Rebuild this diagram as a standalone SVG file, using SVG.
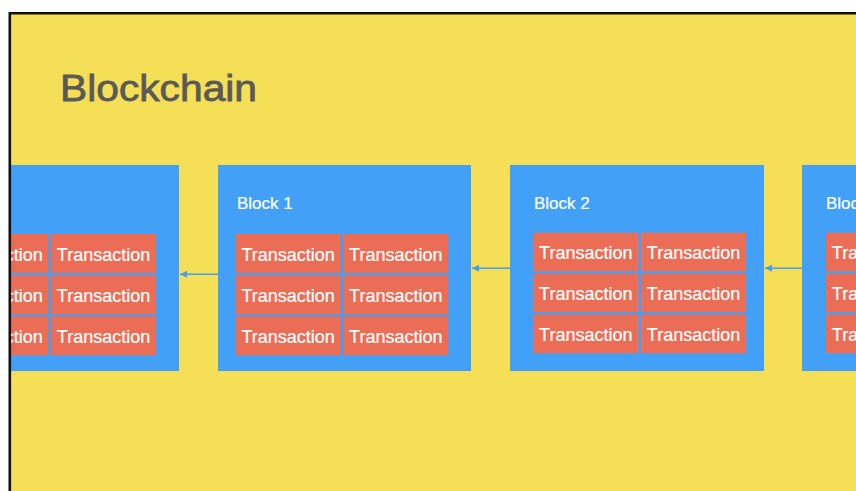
<svg xmlns="http://www.w3.org/2000/svg" width="856" height="491" viewBox="0 0 856 491">
<style>
.bg{fill:#F5DF57}
.frame{fill:none;stroke:#111;stroke-width:2.6}
.block{fill:#42A1F6}
.tx{fill:#EC6D56}
.tt{font-family:"Liberation Sans",Arial,sans-serif;font-size:18px;fill:#fff;text-anchor:middle;stroke:#fff;stroke-width:0.2}
.bl{font-family:"Liberation Sans",Arial,sans-serif;font-size:17px;fill:#fff;stroke:#fff;stroke-width:0.2}
.title{font-family:"Liberation Sans",Arial,sans-serif;font-size:36.5px;fill:#5A5A58;stroke:#5A5A58;stroke-width:0.8}
.conn{stroke:#42A1F6;stroke-width:1.6;fill:none}
</style>
<defs>
<marker id="ah" markerWidth="8" markerHeight="8" refX="7" refY="4" orient="auto" markerUnits="userSpaceOnUse">
<path d="M0,0.5 L7,4 L0,7.5 Z" fill="#42A1F6"/>
</marker>
<clipPath id="clip"><rect x="11" y="14" width="845" height="477"/></clipPath>
</defs>
<rect width="856" height="491" fill="#fff"/>
<rect class="bg" x="10" y="13" width="846" height="478"/>
<g clip-path="url(#clip)">
<text class="title" x="60" y="101" textLength="197" lengthAdjust="spacingAndGlyphs">Blockchain</text>
<g id="connectors">
<line class="conn" x1="218" y1="274.3" x2="180" y2="274.3" marker-end="url(#ah)"/>
<line class="conn" x1="510" y1="268.3" x2="472" y2="268.3" marker-end="url(#ah)"/>
<line class="conn" x1="802" y1="268.3" x2="765" y2="268.3" marker-end="url(#ah)"/>
</g>
<g id="block0">
<rect class="block" x="-74" y="165" width="253" height="206"/>
<rect class="tx" x="-56.5" y="234" width="105" height="39"/>
<rect class="tx" x="51" y="234" width="105" height="39"/>
<rect class="tx" x="-56.5" y="275.3" width="105" height="39"/>
<rect class="tx" x="51" y="275.3" width="105" height="39"/>
<rect class="tx" x="-56.5" y="316.3" width="105" height="39"/>
<rect class="tx" x="51" y="316.3" width="105" height="39"/>
<text class="tt" x="-4" y="261">Transaction</text>
<text class="tt" x="103.5" y="261">Transaction</text>
<text class="tt" x="-4" y="302.3">Transaction</text>
<text class="tt" x="103.5" y="302.3">Transaction</text>
<text class="tt" x="-4" y="343.3">Transaction</text>
<text class="tt" x="103.5" y="343.3">Transaction</text>
</g>
<g id="block1">
<rect class="block" x="218" y="165" width="253" height="206"/>
<text class="bl" x="237" y="209">Block 1</text>
<rect class="tx" x="235.7" y="234" width="105" height="39"/>
<rect class="tx" x="343.3" y="234" width="105" height="39"/>
<rect class="tx" x="235.7" y="275.3" width="105" height="39"/>
<rect class="tx" x="343.3" y="275.3" width="105" height="39"/>
<rect class="tx" x="235.7" y="316.3" width="105" height="39"/>
<rect class="tx" x="343.3" y="316.3" width="105" height="39"/>
<text class="tt" x="288.2" y="261">Transaction</text>
<text class="tt" x="395.8" y="261">Transaction</text>
<text class="tt" x="288.2" y="302.3">Transaction</text>
<text class="tt" x="395.8" y="302.3">Transaction</text>
<text class="tt" x="288.2" y="343.3">Transaction</text>
<text class="tt" x="395.8" y="343.3">Transaction</text>
</g>
<g id="block2">
<rect class="block" x="510" y="165" width="254" height="206"/>
<text class="bl" x="534" y="209">Block 2</text>
<rect class="tx" x="533.3" y="232.7" width="105" height="38.6"/>
<rect class="tx" x="641" y="232.7" width="105" height="38.6"/>
<rect class="tx" x="533.3" y="273.6" width="105" height="38.6"/>
<rect class="tx" x="641" y="273.6" width="105" height="38.6"/>
<rect class="tx" x="533.3" y="314.5" width="105" height="38.8"/>
<rect class="tx" x="641" y="314.5" width="105" height="38.8"/>
<text class="tt" x="585.8" y="259.3">Transaction</text>
<text class="tt" x="693.5" y="259.3">Transaction</text>
<text class="tt" x="585.8" y="300.3">Transaction</text>
<text class="tt" x="693.5" y="300.3">Transaction</text>
<text class="tt" x="585.8" y="341.3">Transaction</text>
<text class="tt" x="693.5" y="341.3">Transaction</text>
</g>
<g id="block3">
<rect class="block" x="802" y="165" width="254" height="206"/>
<text class="bl" x="826" y="209">Block 3</text>
<rect class="tx" x="826" y="232.7" width="105" height="38.6"/>
<rect class="tx" x="826" y="273.6" width="105" height="38.6"/>
<rect class="tx" x="826" y="314.5" width="105" height="38.8"/>
<text class="tt" x="878.5" y="259.3">Transaction</text>
<text class="tt" x="878.5" y="300.3">Transaction</text>
<text class="tt" x="878.5" y="341.3">Transaction</text>
</g>
</g>
<path class="frame" d="M9.8,491 L9.8,13.3 L856,13.3"/>
</svg>
